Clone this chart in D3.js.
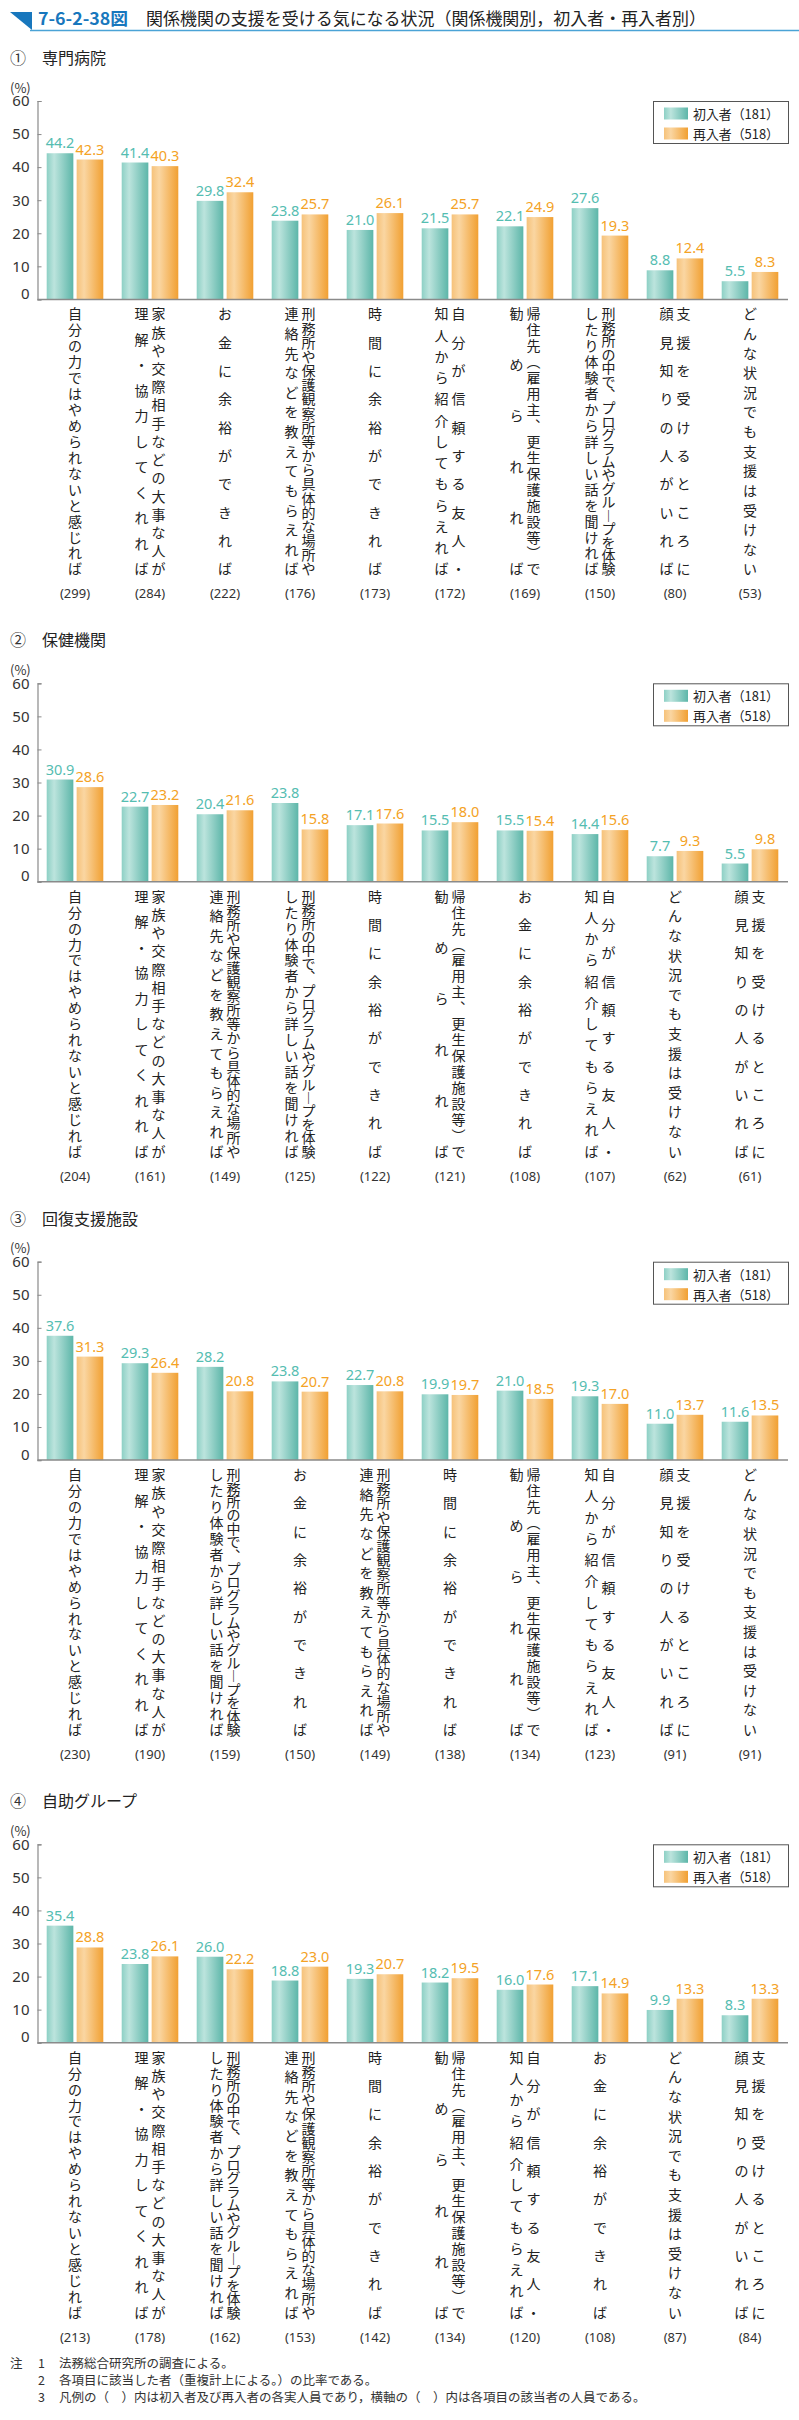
<!DOCTYPE html>
<html><head><meta charset="utf-8">
<script src="https://cdn.jsdelivr.net/npm/d3@7"></script>
<style>body{margin:0;background:#fff}svg{display:block}</style>
</head><body>
<svg id="c" width="799" height="2420"></svg>
<script>
// ---------- data ----------
const seriesNames = ["初入者（181）", "再入者（518）"];
const panelMarks = ["①", "②", "③", "④"];
const panelTitles = ["専門病院", "保健機関", "回復支援施設", "自助グループ"];
const yTicks = [0, 10, 20, 30, 40, 50, 60];

const L_SELF = "自分の力ではやめられないと感じれば";
const L_FAM = "家族や交際相手などの大事な人が|理解・協力してくれれば";
const L_MONEY = "お金に余裕ができれば";
const L_INFO = "刑務所や保護観察所等から具体的な場所や|連絡先などを教えてもらえれば";
const L_TIME = "時間に余裕ができれば";
const L_FRIEND = "自分が信頼する友人・|知人から紹介してもらえれば";
const L_HOME = "帰住先（雇用主、更生保護施設等）で|勧められれば";
const L_PROG = "刑務所の中で、プログラムやグループを体験|したり体験者から詳しい話を聞ければ";
const L_FACE = "支援を受けるところに|顔見知りの人がいれば";
const L_NEVER = "どんな状況でも支援は受けない";

const cats1 = [L_SELF, L_FAM, L_MONEY, L_INFO, L_TIME, L_FRIEND, L_HOME, L_PROG, L_FACE, L_NEVER];
const first1 = [44.2, 41.4, 29.8, 23.8, 21.0, 21.5, 22.1, 27.6, 8.8, 5.5];
const re1 = [42.3, 40.3, 32.4, 25.7, 26.1, 25.7, 24.9, 19.3, 12.4, 8.3];
const n1 = [299, 284, 222, 176, 173, 172, 169, 150, 80, 53];

const cats2 = [L_SELF, L_FAM, L_INFO, L_PROG, L_TIME, L_HOME, L_MONEY, L_FRIEND, L_NEVER, L_FACE];
const first2 = [30.9, 22.7, 20.4, 23.8, 17.1, 15.5, 15.5, 14.4, 7.7, 5.5];
const re2 = [28.6, 23.2, 21.6, 15.8, 17.6, 18.0, 15.4, 15.6, 9.3, 9.8];
const n2 = [204, 161, 149, 125, 122, 121, 108, 107, 62, 61];

const cats3 = [L_SELF, L_FAM, L_PROG, L_MONEY, L_INFO, L_TIME, L_HOME, L_FRIEND, L_FACE, L_NEVER];
const first3 = [37.6, 29.3, 28.2, 23.8, 22.7, 19.9, 21.0, 19.3, 11.0, 11.6];
const re3 = [31.3, 26.4, 20.8, 20.7, 20.8, 19.7, 18.5, 17.0, 13.7, 13.5];
const n3 = [230, 190, 159, 150, 149, 138, 134, 123, 91, 91];

const cats4 = [L_SELF, L_FAM, L_PROG, L_INFO, L_TIME, L_HOME, L_FRIEND, L_MONEY, L_NEVER, L_FACE];
const first4 = [35.4, 23.8, 26.0, 18.8, 19.3, 18.2, 16.0, 17.1, 9.9, 8.3];
const re4 = [28.8, 26.1, 22.2, 23.0, 20.7, 19.5, 17.6, 14.9, 13.3, 13.3];
const n4 = [213, 178, 162, 153, 142, 134, 120, 108, 87, 84];

const notes = [
  ["1", "法務総合研究所の調査による。"],
  ["2", "各項目に該当した者（重複計上による。）の比率である。"],
  ["3", "凡例の（　）内は初入者及び再入者の各実人員であり，横軸の（　）内は各項目の該当者の人員である。"]
];

// ---------- drawing ----------
const svg = d3.select("#c");
const JP = "'Noto Sans CJK JP','Noto Sans',sans-serif";
const NUM = "'Noto Sans','Open Sans',sans-serif";
const TEAL_T = "#55bdb1", ORANGE_T = "#f4a225";

const defs = svg.append("defs");
function grad(id, stops) {
  const g = defs.append("linearGradient").attr("id", id).attr("x1", 0).attr("x2", 1).attr("y1", 0).attr("y2", 0);
  stops.forEach(s => g.append("stop").attr("offset", s[0]).attr("stop-color", s[1]));
}
grad("gT", [[0, "#8dd0c5"], [0.28, "#bce4dd"], [1, "#5db6a9"]]);
grad("gO", [[0, "#f6c27a"], [0.28, "#fad6a2"], [1, "#f1a032"]]);

// header
svg.append("path").attr("d", "M10,12 L32,12 L32,30 Z").attr("fill", "#1877bd");
svg.append("line").attr("x1", 30).attr("x2", 799).attr("y1", 30.5).attr("y2", 30.5)
  .attr("stroke", "#4aa3d6").attr("stroke-width", 1.5);
svg.append("text").attr("x", 38).attr("y", 25).attr("font-family", JP).attr("font-weight", "bold")
  .attr("font-size", 17).attr("fill", "#1877bd").attr("textLength", 90).attr("lengthAdjust", "spacingAndGlyphs")
  .text("7-6-2-38図");
svg.append("text").attr("x", 146).attr("y", 25).attr("font-family", JP)
  .attr("font-size", 17).attr("fill", "#222").attr("textLength", 560).attr("lengthAdjust", "spacingAndGlyphs")
  .text("関係機関の支援を受ける気になる状況（関係機関別，初入者・再入者別）");

const vmap = { "（": "︵", "）": "︶", "、": "︑", "ー": "︱" };

const panels = [
  { cats: cats1, a: first1, b: re1, n: n1, y60: 101 },
  { cats: cats2, a: first2, b: re2, n: n2, y60: 683.3 },
  { cats: cats3, a: first3, b: re3, n: n3, y60: 1261.7 },
  { cats: cats4, a: first4, b: re4, n: n4, y60: 1844.3 }
];
const LBL_BOT = 276, CNT_OFF = 294;

panels.forEach((p, pi) => {
  const g = svg.append("g");
  const axisY = p.y60 + 198.4;
  const y = d3.scaleLinear().domain([0, 60]).range([axisY, p.y60]);
  const x = d3.scaleBand().domain(d3.range(p.cats.length)).range([37.5, 787.5]).padding(0);
  const xs = d3.scaleBand().domain([0, 1]).range([9.2, 65.8]).paddingInner(0.11).paddingOuter(0);

  // titles
  g.append("text").attr("x", 10).attr("y", p.y60 - 44).attr("dominant-baseline", "central")
    .attr("font-family", JP).attr("font-size", 16).attr("fill", "#333").text(panelMarks[pi]);
  g.append("text").attr("x", 42).attr("y", p.y60 - 44).attr("dominant-baseline", "central")
    .attr("font-family", JP).attr("font-size", 16).attr("fill", "#222").text(panelTitles[pi]);
  g.append("text").attr("x", 10).attr("y", p.y60 - 14).attr("dominant-baseline", "central")
    .attr("font-family", JP).attr("font-size", 13).attr("fill", "#333").text("(%)");

  // y axis
  const ya = d3.axisLeft(y).tickValues(yTicks).tickSize(-4).tickPadding(8).tickFormat(d3.format("d"));
  const yg = g.append("g").attr("transform", "translate(37.5,0)").call(ya);
  yg.select(".domain").attr("stroke", "#8a8a8a").attr("stroke-width", 1.2);
  yg.selectAll(".tick line").attr("stroke", "#8a8a8a");
  yg.selectAll(".tick text").attr("font-family", NUM).attr("font-size", 15).attr("fill", "#333")
    .attr("dy", d => d === 0 ? "-0.05em" : "0.32em");

  // bars
  const series = [p.a, p.b];
  series.forEach((vals, si) => {
    g.selectAll(null).data(vals).enter().append("rect")
      .attr("x", (d, i) => x(i) + xs(si)).attr("width", xs.bandwidth())
      .attr("y", d => y(d)).attr("height", d => axisY - y(d))
      .attr("fill", si === 0 ? "url(#gT)" : "url(#gO)");
    g.selectAll(null).data(vals).enter().append("text")
      .attr("x", (d, i) => x(i) + xs(si) + xs.bandwidth() / 2).attr("y", d => y(d) - 5)
      .attr("text-anchor", "middle").attr("font-family", NUM).attr("font-size", 14.5)
      .attr("fill", si === 0 ? TEAL_T : ORANGE_T).text(d => d.toFixed(1));
  });

  // x axis line
  g.append("line").attr("x1", 37.5).attr("x2", 788).attr("y1", axisY).attr("y2", axisY)
    .attr("stroke", "#8a8a8a").attr("stroke-width", 1.5);

  // vertical category labels
  p.cats.forEach((c, i) => {
    const cx = x(i) + x.bandwidth() / 2;
    const cols = c.split("|");
    cols.forEach((col, ci) => {
      const colX = cols.length === 1 ? cx : (ci === 0 ? cx + 8.5 : cx - 8.5);
      const chars = Array.from(col).map(ch => vmap[ch] || ch);
      const top = axisY + 14, bot = axisY + LBL_BOT - 7;
      const pitch = (bot - top) / (chars.length - 1);
      const fs = Math.min(14, pitch + 0.6);
      g.selectAll(null).data(chars).enter().append("text")
        .attr("x", colX).attr("y", (d, k) => top + k * pitch)
        .attr("text-anchor", "middle").attr("dominant-baseline", "central")
        .attr("font-family", JP).attr("font-size", fs).attr("fill", "#222").text(d => d);
    });
    g.append("text").attr("x", cx).attr("y", axisY + CNT_OFF).attr("text-anchor", "middle")
      .attr("dominant-baseline", "central").attr("font-family", NUM).attr("font-size", 13)
      .attr("fill", "#333").text("(" + p.n[i] + ")");
  });

  // legend
  const lg = g.append("g");
  lg.append("rect").attr("x", 653.5).attr("y", p.y60 + 0.5).attr("width", 135).attr("height", 42)
    .attr("fill", "#fff").attr("stroke", "#555").attr("stroke-width", 1);
  seriesNames.forEach((s, si) => {
    lg.append("rect").attr("x", 664).attr("y", p.y60 + 6.5 + si * 20).attr("width", 24).attr("height", 12)
      .attr("fill", si === 0 ? "url(#gT)" : "url(#gO)");
    lg.append("text").attr("x", 693).attr("y", p.y60 + 12.5 + si * 20).attr("dominant-baseline", "central")
      .attr("font-family", JP).attr("font-size", 13).attr("fill", "#222")
      .attr("textLength", 86).attr("lengthAdjust", "spacingAndGlyphs").text(s);
  });
});

// notes
const ng = svg.append("g").attr("font-family", JP).attr("font-size", 12.5).attr("fill", "#333");
ng.append("text").attr("x", 10).attr("y", 2362).attr("dominant-baseline", "central").text("注");
notes.forEach((nt, i) => {
  ng.append("text").attr("x", 38).attr("y", 2362 + i * 17.3).attr("dominant-baseline", "central").text(nt[0]);
  ng.append("text").attr("x", 59).attr("y", 2362 + i * 17.3).attr("dominant-baseline", "central").text(nt[1]);
});
</script>
</body></html>
